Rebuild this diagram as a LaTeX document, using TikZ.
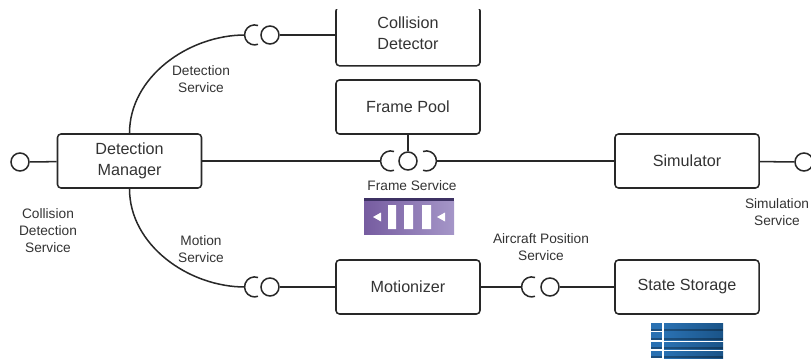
\documentclass[tikz,border=0pt]{standalone}
\usepackage{fontspec}
\setmainfont{Liberation Sans}
\usetikzlibrary{calc}
\definecolor{linegray}{RGB}{40,40,40}
\definecolor{textgray}{RGB}{51,51,51}
\definecolor{pooldark}{RGB}{61,49,99}
\definecolor{poolleft}{RGB}{118,92,160}
\definecolor{poolright}{RGB}{165,150,200}
\definecolor{storeleft}{RGB}{42,113,178}
\definecolor{storeright}{RGB}{26,84,136}
\tikzset{
  % 组件方框
  compbox/.style={draw=linegray, line width=1.3pt, rounded corners=3pt, minimum width=4.32cm,
    minimum height=1.62cm, align=center, text=textgray, font=\fontsize{13.8}{17.5}\selectfont},
  % 小圆
  ball/.style={circle, draw=linegray, line width=1.3pt, inner sep=0pt, minimum size=0.54cm},
  conn/.style={draw=linegray, line width=1.3pt},
  lab/.style={align=center, text=textgray, font=\fontsize{11.7}{14.5}\selectfont},
}
\begin{document}
\begin{tikzpicture}[x=0.03cm, y=0.03cm]
  \useasboundingbox (0,0) rectangle (811,358);

  % 方框
  \begin{scope}
    \clip (300,0) rectangle (520,348);
    \node[compbox, minimum height=1.76cm] (collision) at (408,321.5) {};
  \end{scope}
  \node[lab, font=\fontsize{13.8}{17.5}\selectfont] (collisiontext) at (408,325) {Collision\\Detector};
  \node[compbox] (pool) at (408,251) {Frame Pool};
  \node[compbox] (manager) at (129.5,197) {Detection\\Manager};
  \node[compbox] (simulator) at (687,197) {Simulator};
  \node[compbox] (motionizer) at (408,71) {Motionizer};
  \node[compbox] (storage) at (687,71) {State Storage};

  % 小圆
  \node[ball] (ballcd) at (20,196) {};
  \node[ball] (balldet) at (270,323) {};
  \node[ball] (ballframe) at (408,197) {};
  \node[ball] (ballsim) at (804,196) {};
  \node[ball] (ballmot) at (270,71) {};
  \node[ball] (ballpos) at (550,71) {};

  % 半圆插口
  \coordinate (sockdet) at (245,323);
  \coordinate (sockframe) at (381,197);
  \coordinate (sockframer) at (436,197);
  \coordinate (sockmot) at (245,71);
  \coordinate (sockpos) at (522,71);
  \foreach \s in {sockdet,sockframe,sockmot,sockpos}
    \draw[conn] ($(\s)+(13,9.5)$) arc[start angle=70, end angle=290, radius=10];
  \draw[conn] ($(sockframer)+(-13,9.5)$) arc[start angle=110, end angle=-110, radius=10];

  % 连线
  \draw[conn] (ballcd) -- (manager);
  \draw[conn] (balldet) -- (collision.west |- balldet);
  \draw[conn] (manager.north) to[out=90, in=180, looseness=0.95] (sockdet);
  \draw[conn] (manager.south) to[out=-90, in=180, looseness=0.95] (sockmot);
  \draw[conn] (manager.east) -- (sockframe);
  \draw[conn] (sockframer) -- (simulator.west);
  \draw[conn] (pool) -- (ballframe);
  \draw[conn] (simulator) -- (ballsim);
  \draw[conn] (ballmot) -- (motionizer);
  \draw[conn] (motionizer) -- (sockpos);
  \draw[conn] (ballpos) -- (storage);

  % 标签
  \node[lab] (labdet) at (201,279) {Detection\\Service};
  \node[lab] (labmot) at (201,109) {Motion\\Service};
  \node[lab] (labframe) at (412,172) {Frame Service};
  \node[lab] (labcd) at (48,127) {Collision\\Detection\\Service};
  \node[lab] (labsim) at (777,146) {Simulation\\Service};
  \node[lab] (labpos) at (541,111) {Aircraft Position\\Service};

  % 紫色图标
  \shade[left color=poolleft, right color=poolright] (364,124) rectangle (454,157);
  \fill[pooldark] (364,157) rectangle (454,160);
  \fill[white] (388,129) rectangle (396,153) (404,129) rectangle (413,153) (422,129) rectangle (431,153);
  \fill[white] (373,141) -- (381,145.5) -- (381,136.5) -- cycle;
  \fill[white] (437,141) -- (445,145.5) -- (445,136.5) -- cycle;

  % 蓝色图标
  \foreach \ylow/\yhigh in {27/35, 18/26, 9/16, 0/7} {
    \fill[storeleft] (651,\ylow) rectangle (662,\yhigh);
    \shade[left color=storeleft, right color=storeright] (664,\ylow) rectangle (723,\yhigh);
    \fill[black, opacity=0.3] (651,\ylow) rectangle (662,\ylow+2);
    \fill[black, opacity=0.3] (664,\ylow) rectangle (723,\ylow+2);
  }
\end{tikzpicture}
\end{document}
